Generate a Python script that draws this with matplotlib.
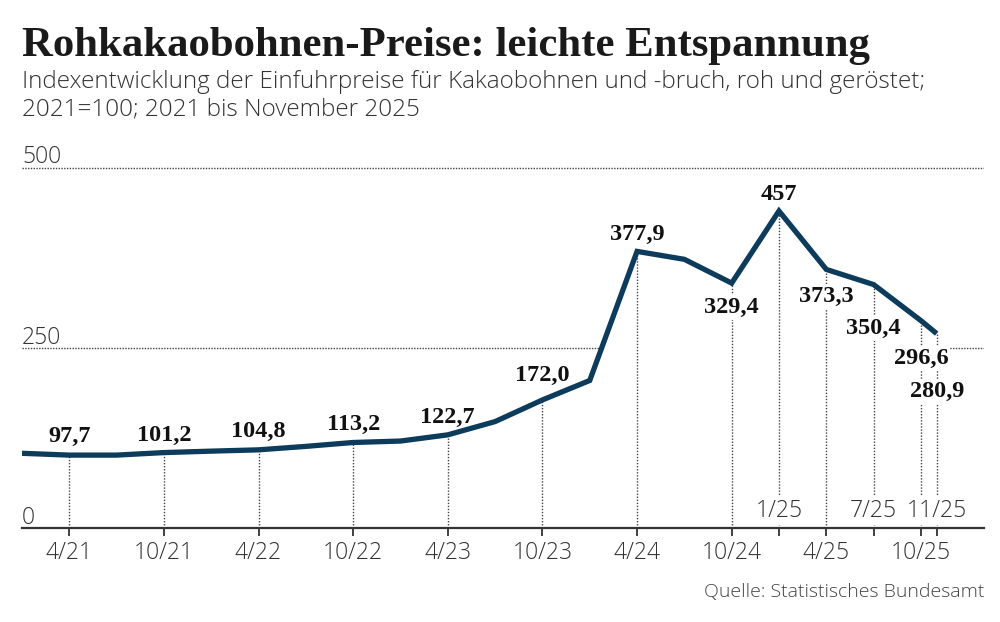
import matplotlib
matplotlib.use("Agg")
import matplotlib.pyplot as plt

# ---------------- data ----------------
# month index: 0 = January 2021
months = [0, 3, 6, 9, 12, 15, 18, 21, 24, 27, 30, 33, 36, 39, 42, 45, 48, 51, 54, 57, 58]
values = [104, 101.5, 101.5, 105, 107, 108.8, 113.6, 119, 121, 129.6, 148, 178, 205,
          384, 373, 340, 440, 359, 338, 288, 270]

label_months = [3, 9, 15, 21, 27, 33, 39, 45, 48, 51, 54, 57, 58]
label_texts = ["97,7", "101,2", "104,8", "113,2", "122,7", "172,0", "377,9",
               "329,4", "457", "373,3", "350,4", "296,6", "280,9"]
# baseline height of each value label (in axis units)
label_y = [120.1, 121.0, 126.2, 136.3, 146.4, 204.7, 399.8, 298.5, 455.2,
           314.2, 269.4, 227.8, 182.5]

tick_months_below = [3, 9, 15, 21, 27, 33, 39, 45, 51, 57]
tick_labels_below = ["4/21", "10/21", "4/22", "10/22", "4/23", "10/23", "4/24",
                     "10/24", "4/25", "10/25"]
tick_months_above = [48, 54, 58]
tick_labels_above = ["1/25", "7/25", "11/25"]

y_ticks = [0, 250, 500]
y_tick_labels = ["0", "250", "500"]

title = "Rohkakaobohnen-Preise: leichte Entspannung"
subtitle1 = "Indexentwicklung der Einfuhrpreise für Kakaobohnen und -bruch, roh und geröstet;"
subtitle2 = "2021=100; 2021 bis November 2025"
source = "Quelle: Statistisches Bundesamt"

# ---------------- style ----------------
LINE = "#0c3b5c"
TXT = "#1a1a1a"
GRAY = "#333333"
SANS = ["Open Sans", "DejaVu Sans"]
SERIF = "Liberation Serif"
LIGHT = 300

W, H = 1000, 622
fig = plt.figure(figsize=(W / 100, H / 100), dpi=100)
fig.patch.set_facecolor("white")

ymax = 524.6
ax = fig.add_axes([22 / W, 1 - 528.3 / H, (984 - 22) / W, (528.3 - 150) / H])
ax.set_xlim(0, 61)
ax.set_ylim(0, ymax)
ax.set_facecolor("none")
for s in ax.spines.values():
    s.set_visible(False)
ax.set_xticks([])
ax.set_yticks([])

# gridlines (dotted)
for yv in y_ticks[1:]:
    ax.axhline(yv, color="#444444", lw=1.0, ls=(0, (1, 1)), zorder=1)

# white area below the line hides gridlines
ax.fill_between(months, values, 0, color="white", zorder=2, lw=0)

# vertical dotted lines from labelled points down to baseline
lab_vals = [values[months.index(m)] for m in label_months]
ax.vlines(label_months, 0, lab_vals, colors="#444444", lw=1.0,
          linestyles=[(0, (1, 1.2))], zorder=3)

# baseline
ax.axhline(0, color="#333333", lw=1.6, zorder=4, clip_on=False)

# tick marks below baseline
all_ticks = sorted(tick_months_below + tick_months_above)
ax.vlines(all_ticks, -10, 0, colors="#333333", lw=1.3, zorder=4, clip_on=False)

# main line
ax.plot(months, values, color=LINE, lw=3.8, solid_joinstyle="miter",
        solid_capstyle="butt", zorder=6)

# value labels
for m, t, yl in zip(label_months, label_texts, label_y):
    ax.text(m, yl, t, ha="center", va="baseline", fontsize=17.5,
            fontweight="bold", family=SERIF, color="#111111", zorder=5,
            bbox=dict(boxstyle="square,pad=0.08", fc="white", ec="none"))

# x tick labels
for m, t in zip(tick_months_below, tick_labels_below):
    ax.text(m, -42.5, t, ha="center", va="baseline", fontsize=16.5, family=SANS,
            fontweight=LIGHT, color=GRAY, clip_on=False)
for m, t in zip(tick_months_above, tick_labels_above):
    ax.text(m, 16, t, ha="center", va="baseline", fontsize=16.5, family=SANS,
            fontweight=LIGHT, color=GRAY, zorder=5,
            bbox=dict(boxstyle="square,pad=0.1", fc="white", ec="none"))

# y tick labels
for yv, t in zip(y_ticks, y_tick_labels):
    ax.text(0, yv + 6, t, ha="left", va="baseline", fontsize=16.5, family=SANS,
            fontweight=LIGHT, color=GRAY)

# titles
fig.text(22 / W, 1 - 56 / H, title, ha="left", va="baseline", fontsize=30.8,
         fontweight="bold", family=SERIF, color=TXT)
fig.text(22 / W, 1 - 88 / H, subtitle1, ha="left", va="baseline", fontsize=17.5,
         family=SANS, fontweight=LIGHT, color=GRAY)
fig.text(22 / W, 1 - 115 / H, subtitle2, ha="left", va="baseline", fontsize=17.5,
         family=SANS, fontweight=LIGHT, color=GRAY)
fig.text(984 / W, 1 - 597 / H, source, ha="right", va="baseline", fontsize=14,
         family=SANS, fontweight=LIGHT, color="#444444")

fig.savefig("out.png", dpi=100, facecolor="white")
